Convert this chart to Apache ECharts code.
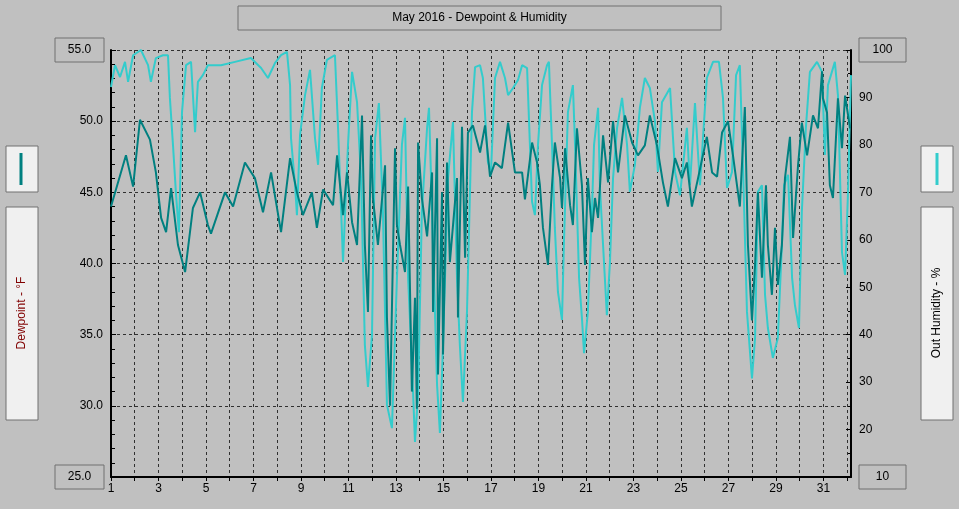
<!DOCTYPE html>
<html>
<head>
<meta charset="UTF-8">
<script src="https://cdn.jsdelivr.net/npm/echarts@6/dist/echarts.min.js"></script>
<style>
  html, body { margin: 0; padding: 0; background: #c0c0c0; }
  #main { width: 959px; height: 509px; }
</style>
<title>Dewpoint & Humidity</title>
</head>
<body>
<div id="main"></div>
<script type="text/javascript">
// [day of month, value]
var dewpoint = [
  [1.00,44],[1.63,47.6],[1.93,45.4],[2.22,50.1],[2.64,48.7],[2.89,46.4],[3.11,43.2],[3.32,42.2],[3.53,45.3],[3.82,41.3],
  [4.12,39.4],[4.45,43.9],[4.75,45],[5.08,42.7],[5.21,42.1],[5.80,45],[6.14,44],[6.64,47.1],[7.06,46],[7.40,43.6],
  [7.74,46.4],[8.16,42.2],[8.54,47.4],[8.83,45],[9.08,43.4],[9.46,45],[9.67,42.5],[9.93,45.2],[10.35,44.1],[10.52,47.6],
  [10.77,43.4],[10.94,46.4],[11.15,42.9],[11.36,41.3],[11.57,50.4],[11.69,41.3],[11.82,36.6],[11.95,49],[12.03,44.6],[12.24,41.3],
  [12.54,46.9],[12.62,36.2],[12.75,30.0],[12.96,48.1],[13.04,42.7],[13.17,41.3],[13.38,39.4],[13.51,45.4],[13.67,31.0],[13.80,37.6],
  [13.88,29.8],[13.93,48.5],[14.09,44.6],[14.31,41.9],[14.52,46.4],[14.56,36.6],[14.73,48.8],[14.77,32.2],[14.94,45],[14.98,33.6],
  [15.15,47.1],[15.27,40.1],[15.57,46],[15.61,36.2],[15.78,49.6],[15.91,40.4],[16.03,49.2],[16.24,49.7],[16.54,47.8],[16.75,49.7],
  [16.96,46.1],[17.17,47.1],[17.46,46.7],[17.72,49.9],[18.01,46.4],[18.31,46.4],[18.43,44.5],[18.73,48.5],[18.94,47.1],[19.06,45.5],
  [19.19,42.5],[19.40,39.9],[19.57,45.5],[19.69,48.5],[19.91,46],[19.99,43.9],[20.12,48.1],[20.33,44.1],[20.45,42.7],[20.62,49.5],
  [20.83,45.5],[20.96,39.9],[21.08,46],[21.25,42.2],[21.38,44.6],[21.51,43.2],[21.72,49],[21.93,45.7],[22.14,50],[22.35,46.4],
  [22.64,50.4],[22.94,48.5],[23.19,47.6],[23.48,48.3],[23.69,50.4],[23.99,48.3],[24.24,45.7],[24.45,44],[24.75,47.4],[25.04,46],
  [25.25,47.1],[25.46,44],[25.72,46],[26.09,48.9],[26.31,46.4],[26.52,46.1],[26.73,49.2],[26.98,50],[27.19,47.6],[27.48,44],
  [27.69,51],[27.82,41.3],[27.99,36],[28.12,39.9],[28.24,45],[28.41,39],[28.58,45.5],[28.66,41.3],[28.83,37.8],[28.96,42.5],
  [29.08,38.5],[29.25,41.3],[29.38,46],[29.59,48.9],[29.72,41.8],[29.93,46.9],[30.09,49.9],[30.31,47.6],[30.56,50.4],[30.77,49.5],
  [30.94,53.5],[30.98,51.6],[31.15,50.6],[31.27,45.5],[31.40,44.6],[31.61,51.6],[31.78,48.1],[31.91,51.8],[32.12,49.5]
];
var humidity = [
  [1.00,92.2],[1.17,96.8],[1.38,94.3],[1.59,97.5],[1.72,93.3],[1.93,98.9],[2.26,100],[2.56,96.8],[2.68,93.3],[2.89,98.3],
  [3.19,98.9],[3.40,98.9],[3.48,89.9],[3.61,80],[3.74,69.4],[3.86,61.6],[3.99,86.9],[4.16,96.8],[4.37,97.5],[4.54,82.7],
  [4.66,93.3],[4.87,94.7],[5.08,96.8],[5.63,96.8],[6.22,97.5],[6.89,98.3],[7.32,96.2],[7.61,94.1],[7.91,97.3],[8.16,98.9],
  [8.41,99.6],[8.54,92.6],[8.58,81.4],[8.75,71.5],[8.83,65.2],[8.96,82.1],[9.17,90.5],[9.38,95.8],[9.59,81.4],[9.72,75.8],
  [9.88,92],[10.09,97.9],[10.43,98.9],[10.56,83.6],[10.77,55.3],[10.98,80],[11.15,95.4],[11.36,89],[11.53,73],[11.69,37.8],
  [11.82,29],[11.99,39.9],[12.12,81.4],[12.28,88.8],[12.45,65.9],[12.62,25.2],[12.83,20.3],[13.04,51.9],[13.25,80],[13.38,85.7],
  [13.51,51.9],[13.67,34.2],[13.80,17.4],[13.93,27.3],[14.09,65.9],[14.31,83.6],[14.39,87.8],[14.56,58.9],[14.73,29.4],[14.85,19.3],
  [14.98,37.8],[15.19,73],[15.40,84.8],[15.57,51.9],[15.69,37.8],[15.82,25.8],[15.99,44.8],[16.20,86.9],[16.33,96.4],[16.54,96.8],
  [16.66,94.1],[16.87,76.4],[17.00,74.3],[17.17,94.1],[17.38,97.5],[17.59,94.1],[17.72,90.5],[17.93,92],[18.14,93.7],[18.31,96.8],
  [18.52,96.2],[18.64,80],[18.73,68],[18.85,65.2],[18.98,80],[19.15,92.6],[19.36,96.8],[19.44,97.5],[19.57,80],[19.69,62.5],
  [19.82,49],[19.99,43.1],[20.07,58.9],[20.24,86.9],[20.45,92.6],[20.54,80],[20.71,51.9],[20.83,43.5],[20.92,36.1],[21.08,44.8],
  [21.25,65.9],[21.34,80],[21.51,87.8],[21.59,70.9],[21.72,58.9],[21.88,44.1],[22.01,55.3],[22.14,73],[22.31,83.6],[22.52,89.9],
  [22.73,80],[22.85,70.1],[23.06,75.8],[23.27,87.8],[23.48,94.1],[23.69,92],[23.91,84.8],[24.03,74.3],[24.20,89],[24.54,92],
  [24.75,74.3],[24.96,69.4],[25.25,83.6],[25.38,71.5],[25.59,88.8],[25.80,71.5],[26.09,94.1],[26.35,97.5],[26.60,97.5],[26.77,89.9],
  [26.94,70.9],[27.15,74.3],[27.32,94.7],[27.48,96.8],[27.61,75.8],[27.78,44.8],[27.99,30.8],[28.12,39.3],[28.24,70.1],[28.41,71.5],
  [28.54,48.4],[28.66,41.4],[28.87,35.1],[29.08,39.3],[29.25,58.9],[29.34,71.5],[29.51,73.7],[29.68,51.9],[29.80,46.2],[29.97,41.4],
  [30.09,65.9],[30.26,83.6],[30.43,95.4],[30.73,97.5],[30.94,95.4],[31.06,77.9],[31.19,92.6],[31.48,97.5],[31.61,90.5],[31.78,57.4],
  [31.91,52.6],[32.03,69.4],[32.16,94.7]
];
var dewColor = '#008080';
var humColor = '#33cccc';

var myChart = echarts.init(document.getElementById('main'));
var font = 'Liberation Sans';
var dash = { color: '#303030', type: [3, 3], width: 1 };

function box(x, y, w, h, fill) {
  return { type: 'rect', shape: { x: x, y: y, width: w, height: h },
           style: { fill: fill || '#c0c0c0', stroke: '#707070', lineWidth: 1 } };
}
function label(x, y, txt, opts) {
  return Object.assign({ type: 'text', x: x, y: y,
    style: { text: txt, font: '12px ' + font, fill: '#000', align: 'center', verticalAlign: 'middle' } }, opts || {});
}

var option = {
  backgroundColor: '#c0c0c0',
  animation: false,
  grid: { left: 111, right: 108, top: 50, bottom: 32 },
  xAxis: {
    type: 'value', min: 1, max: 32.16, interval: 1,
    axisLine: { lineStyle: { color: '#000', width: 2 } },
    axisTick: { lineStyle: { color: '#000' }, length: 4 },
    axisLabel: { color: '#000', fontFamily: font, fontSize: 12, margin: 6,
      showMaxLabel: false,
      formatter: function (v) { return (v % 2 === 1) ? String(v) : ''; } },
    splitLine: { show: true, lineStyle: dash }
  },
  yAxis: [{
    type: 'value', min: 25, max: 55, interval: 5,
    axisLine: { show: true, lineStyle: { color: '#000', width: 2 } },
    axisTick: { show: true, inside: true, length: 5, lineStyle: { color: '#000' } },
    minorTick: { show: true, splitNumber: 5, length: 4, lineStyle: { color: '#000' } },
    axisLabel: { color: '#000', fontFamily: font, fontSize: 12, showMinLabel: false, showMaxLabel: false,
      formatter: function (v) { return v.toFixed(1); } },
    splitLine: { show: true, lineStyle: dash }
  }, {
    type: 'value', min: 10, max: 100, interval: 10,
    axisLine: { show: true, lineStyle: { color: '#000', width: 2 } },
    axisTick: { show: true, inside: true, length: 5, lineStyle: { color: '#000' } },
    minorTick: { show: true, splitNumber: 2, length: 3, lineStyle: { color: '#000' } },
    axisLabel: { color: '#000', fontFamily: font, fontSize: 12, showMinLabel: false, showMaxLabel: false },
    splitLine: { show: false }
  }],
  series: [{
    name: 'Out Humidity', type: 'line', yAxisIndex: 1, data: humidity,
    symbol: 'none', lineStyle: { color: humColor, width: 2 }
  }, {
    name: 'Dewpoint', type: 'line', yAxisIndex: 0, data: dewpoint,
    symbol: 'none', lineStyle: { color: dewColor, width: 2 }
  }],
  graphic: [
    box(238, 6, 483, 24),
    label(479.5, 18, 'May 2016 - Dewpoint & Humidity'),
    box(55, 38, 49, 24), label(79.5, 50, '55.0'),
    box(55, 465, 49, 24), label(79.5, 477, '25.0'),
    box(859, 38, 47, 24), label(882.5, 50, '100'),
    box(859, 465, 47, 24), label(882.5, 477, '10'),
    box(6, 146, 32, 46, '#f0f0f0'),
    { type: 'line', shape: { x1: 21, y1: 153, x2: 21, y2: 185 }, style: { stroke: dewColor, lineWidth: 3 } },
    box(6, 207, 32, 213, '#f0f0f0'),
    label(22, 313, 'Dewpoint - °F', { rotation: Math.PI / 2, style: { text: 'Dewpoint - °F', font: '12px ' + font, fill: '#800000', align: 'center', verticalAlign: 'middle' } }),
    box(921, 146, 32, 46, '#f0f0f0'),
    { type: 'line', shape: { x1: 937, y1: 153, x2: 937, y2: 185 }, style: { stroke: humColor, lineWidth: 3 } },
    box(921, 207, 32, 213, '#f0f0f0'),
    label(937, 313, 'Out Humidity - %', { rotation: Math.PI / 2 })
  ]
};
myChart.setOption(option);
</script>
</body>
</html>
